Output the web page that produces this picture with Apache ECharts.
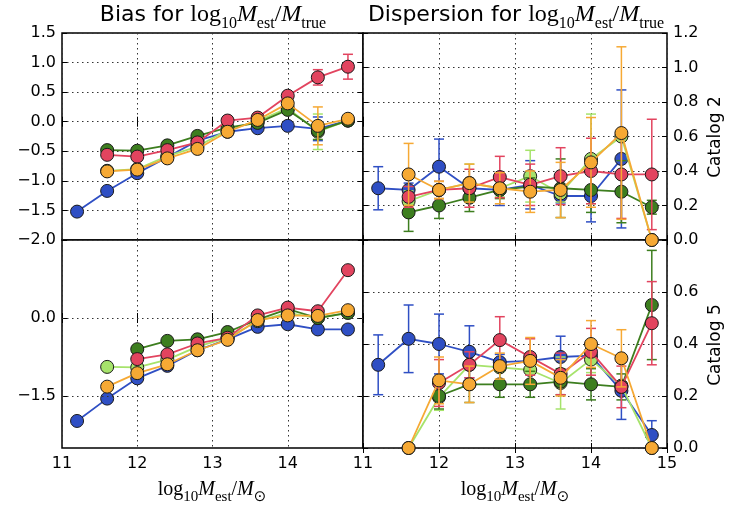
<!DOCTYPE html>
<html><head><meta charset="utf-8">
<script src="https://cdn.jsdelivr.net/npm/echarts@6/dist/echarts.min.js"></script>
<style>html,body{margin:0;padding:0;background:#fff}#c{width:745px;height:509px}</style>
</head><body><div id="c"></div>
<script>
// ---------- data ----------
const xValues = [11.2, 11.6, 12.0, 12.4, 12.8, 13.2, 13.6, 14.0, 14.4, 14.8];
const xTicks = [11, 12, 13, 14, 15];
const colorNames = ['blue', 'lightgreen', 'darkgreen', 'red', 'orange'];
const colors = ['#2f4fc4', '#a6e36b', '#3d7e1f', '#e2445f', '#f6a934'];

// Bias, catalog 2
const biasC2Blue   = [-1.52, -1.17, -0.87, -0.60, -0.32, -0.17, -0.11, -0.07, -0.12, 0.02];
const biasC2Light  = [null, -0.83, -0.80, -0.58, -0.42, -0.14, 0.01, 0.23, -0.17, 0.02];
const biasC2Dark   = [null, -0.48, -0.49, -0.40, -0.24, -0.10, -0.02, 0.20, -0.15, 0.02];
const biasC2Red    = [null, -0.56, -0.59, -0.48, -0.35, 0.02, 0.07, 0.44, 0.75, 0.93];
const biasC2Orange = [null, -0.84, -0.81, -0.62, -0.46, -0.17, 0.03, 0.31, -0.07, 0.05];
const biasC2BlueErr   = [0, 0, 0, 0, 0, 0, 0, 0, 0.20, 0];
const biasC2LightErr  = [0, 0, 0, 0, 0, 0, 0, 0, 0.30, 0.04];
const biasC2DarkErr   = [0, 0, 0, 0, 0, 0, 0, 0, 0.15, 0.06];
const biasC2RedErr    = [0, 0, 0, 0, 0, 0, 0, 0, 0.13, 0.21];
const biasC2OrangeErr = [0, 0, 0, 0, 0, 0, 0, 0, 0.32, 0];

// Dispersion, catalog 2
const dispC2Blue   = [0.30, 0.29, 0.425, 0.30, 0.29, 0.32, 0.255, 0.255, 0.47, null];
const dispC2Light  = [null, 0.225, 0.29, 0.33, 0.30, 0.37, 0.27, 0.47, 0.60, 0.0];
const dispC2Dark   = [null, 0.16, 0.20, 0.245, 0.29, 0.31, 0.30, 0.29, 0.28, 0.19];
const dispC2Red    = [null, 0.25, 0.29, 0.30, 0.365, 0.32, 0.37, 0.40, 0.38, 0.38];
const dispC2Orange = [null, 0.38, 0.29, 0.33, 0.30, 0.28, 0.29, 0.45, 0.62, 0.0];
const dispC2BlueErr   = [0.125, 0.04, 0.16, 0.03, 0.09, 0.14, 0.04, 0.15, 0.40, 0];
const dispC2LightErr  = [0, 0.06, 0.05, 0.11, 0.05, 0.15, 0.05, 0.26, 0, 0];
const dispC2DarkErr   = [0, 0.11, 0.075, 0.08, 0.05, 0.05, 0.17, 0.13, 0.18, 0.04];
const dispC2RedErr    = [0, 0.06, 0.05, 0.11, 0.12, 0.12, 0.165, 0.19, 0.255, 0.32];
const dispC2OrangeErr = [0, 0.18, 0.05, 0.11, 0.09, 0.12, 0.16, 0.26, 0.50, 0];

// Bias, catalog 5
const biasC5Blue   = [-1.98, -1.55, -1.16, -0.92, -0.62, -0.41, -0.17, -0.12, -0.22, -0.22];
const biasC5Light  = [null, -0.94, -0.95, -0.80, -0.55, -0.38, -0.06, 0.10, 0.00, 0.10];
const biasC5Dark   = [null, null, -0.60, -0.44, -0.41, -0.27, -0.03, 0.17, 0.00, 0.10];
const biasC5Red    = [null, null, -0.79, -0.70, -0.49, -0.38, 0.05, 0.20, 0.13, 0.92];
const biasC5Orange = [null, -1.32, -1.06, -0.89, -0.62, -0.42, -0.04, 0.05, 0.04, 0.15];
const biasC5Err    = [0, 0, 0, 0, 0, 0, 0, 0, 0, 0];

// Dispersion, catalog 5
const dispC5Blue   = [0.32, 0.42, 0.40, 0.37, 0.33, 0.335, 0.35, 0.355, 0.22, 0.05];
const dispC5Light  = [null, 0.0, 0.195, 0.32, 0.31, 0.30, 0.25, 0.34, 0.24, 0.0];
const dispC5Dark   = [null, null, 0.20, 0.245, 0.245, 0.245, 0.255, 0.245, 0.235, 0.55];
const dispC5Red    = [null, null, 0.25, 0.32, 0.415, 0.35, 0.285, 0.37, 0.235, 0.48];
const dispC5Orange = [null, 0.0, 0.26, 0.245, 0.315, 0.335, 0.27, 0.40, 0.345, 0.0];
const dispC5BlueErr   = [0.115, 0.13, 0.115, 0.10, 0.03, 0.03, 0.08, 0.03, 0.11, 0.055];
const dispC5LightErr  = [0, 0, 0.05, 0, 0, 0.04, 0.10, 0.05, 0, 0];
const dispC5DarkErr   = [0, 0, 0.05, 0.07, 0.05, 0.05, 0.05, 0.06, 0.05, 0.21];
const dispC5RedErr    = [0, 0, 0.09, 0.05, 0.09, 0.07, 0.08, 0.09, 0.08, 0.16];
const dispC5OrangeErr = [0, 0, 0.09, 0.07, 0.05, 0.09, 0.07, 0.09, 0.11, 0];

const biasC2YTicks = [-2.0, -1.5, -1.0, -0.5, 0.0, 0.5, 1.0, 1.5];
const biasC5YTicks = [-1.5, 0.0];

// ---------- build ----------
const panels = [
  { vals: [biasC2Blue, biasC2Light, biasC2Dark, biasC2Red, biasC2Orange],
    errs: [biasC2BlueErr, biasC2LightErr, biasC2DarkErr, biasC2RedErr, biasC2OrangeErr] },
  { vals: [dispC2Blue, dispC2Light, dispC2Dark, dispC2Red, dispC2Orange],
    errs: [dispC2BlueErr, dispC2LightErr, dispC2DarkErr, dispC2RedErr, dispC2OrangeErr] },
  { vals: [biasC5Blue, biasC5Light, biasC5Dark, biasC5Red, biasC5Orange],
    errs: [biasC5Err, biasC5Err, biasC5Err, biasC5Err, biasC5Err] },
  { vals: [dispC5Blue, dispC5Light, dispC5Dark, dispC5Red, dispC5Orange],
    errs: [dispC5BlueErr, dispC5LightErr, dispC5DarkErr, dispC5RedErr, dispC5OrangeErr] }
];

const grids = [
  { left: 62, top: 33, width: 301, height: 207 },
  { left: 363, top: 33, width: 304, height: 207 },
  { left: 62, top: 240, width: 301, height: 208 },
  { left: 363, top: 240, width: 304, height: 208 }
].map(g => Object.assign(g, { show: true, borderColor: '#000', borderWidth: 1.5, backgroundColor: '#fff' }));

const gridLineStyle = { type: [1.5, 3.5], color: '#333', width: 1 };
const labelFont = { fontFamily: 'DejaVu Sans', fontSize: 16, color: '#000' };
const fmt = v => (Math.round(v * 10) / 10).toFixed(1).replace('-', '\u2212');

const xAxes = [], yAxes = [];
for (let g = 0; g < 4; g++) {
  const bottomRow = g >= 2;
  xAxes.push({
    type: 'value', gridIndex: g, min: 11, max: 15, interval: 1, position: 'bottom',
    axisLine: { show: false },
    axisTick: { show: true, inside: true, length: 5, lineStyle: { color: '#000' } },
    axisLabel: Object.assign({ show: bottomRow, margin: 8,
      formatter: v => (g === 2 && v === 15) ? '' : String(v) }, labelFont),
    splitLine: { show: true, lineStyle: gridLineStyle }
  });
}
for (let g = 0; g < 4; g++) {
  xAxes.push({
    type: 'value', gridIndex: g, min: 11, max: 15, interval: 1, position: 'top',
    axisLine: { show: false }, axisLabel: { show: false }, splitLine: { show: false },
    axisTick: { show: true, inside: true, length: 5, lineStyle: { color: '#000' } }
  });
}
const yRanges = [
  { min: -2.0, max: 1.5, interval: 0.5 },
  { min: 0, max: 1.2, interval: 0.2 },
  { min: -2.5, max: 1.5 },
  { min: 0, max: 0.8, interval: 0.2 }
];
for (let side = 0; side < 2; side++) {
  for (let g = 0; g < 4; g++) {
    const leftPanel = g % 2 === 0;
    const main = side === 0;
    const pos = main ? (leftPanel ? 'left' : 'right') : (leftPanel ? 'right' : 'left');
    const ax = Object.assign({
      type: 'value', gridIndex: g, position: pos,
      axisLine: { show: false },
      axisTick: { show: true, inside: true, length: 5, lineStyle: { color: '#000' } },
      axisLabel: Object.assign({ show: main, margin: 6,
        formatter: v => (g === 3 && Math.abs(v - 0.8) < 1e-6) ? '' : fmt(v) }, labelFont),
      splitLine: { show: main && g !== 2, lineStyle: gridLineStyle }
    }, yRanges[g]);
    if (g === 2) {
      ax.axisLabel.customValues = biasC5YTicks;
      ax.axisTick.customValues = biasC5YTicks;
    }
    yAxes.push(ax);
  }
}

function errRender(color) {
  return function (params, api) {
    const x = api.value(0), lo = api.value(1), hi = api.value(2);
    const p1 = api.coord([x, lo]), p2 = api.coord([x, hi]);
    const w = 5;
    const style = { stroke: color, lineWidth: 1.5 };
    return { type: 'group', children: [
      { type: 'line', shape: { x1: p1[0], y1: p1[1], x2: p2[0], y2: p2[1] }, style },
      { type: 'line', shape: { x1: p1[0] - w, y1: p1[1], x2: p1[0] + w, y2: p1[1] }, style },
      { type: 'line', shape: { x1: p2[0] - w, y1: p2[1], x2: p2[0] + w, y2: p2[1] }, style }
    ] };
  };
}

const series = [];
// gridlines for bias catalog 5 (only at its tick values)
series.push({
  type: 'line', xAxisIndex: 2, yAxisIndex: 2, data: [], z: 1, silent: true,
  markLine: { silent: true, symbol: ['none', 'none'], label: { show: false },
    lineStyle: gridLineStyle, data: biasC5YTicks.map(v => ({ yAxis: v })) }
});
panels.forEach((p, g) => {
  p.vals.forEach((vals, k) => {
    const pts = [], errs = [];
    vals.forEach((v, i) => {
      if (v === null) return;
      pts.push([xValues[i], v]);
      const e = p.errs[k][i];
      if (e > 0) errs.push([xValues[i], v - e, v + e]);
    });
    if (errs.length) series.push({
      type: 'custom', name: colorNames[k] + g + 'err', xAxisIndex: g, yAxisIndex: g,
      data: errs, encode: { x: 0, y: [1, 2] }, renderItem: errRender(colors[k]), z: 2 + k * 2, clip: false
    });
    series.push({
      type: 'line', name: colorNames[k] + g, xAxisIndex: g, yAxisIndex: g, data: pts,
      symbol: 'circle', symbolSize: 13, showSymbol: true, z: 3 + k * 2, clip: false,
      lineStyle: { color: colors[k], width: 1.8 },
      itemStyle: { color: colors[k], borderColor: '#1a1a1a', borderWidth: 1 },
      emphasis: { disabled: true }, animation: false
    });
  });
});

const sans = 'DejaVu Sans', serif = 'Liberation Serif';
function mathRich(big, small) {
  return {
    s: { fontFamily: sans, fontSize: big - 2, color: '#000', lineHeight: big + 10, verticalAlign: 'middle' },
    r: { fontFamily: serif, fontSize: big, color: '#000', lineHeight: big + 10, verticalAlign: 'middle' },
    i: { fontFamily: serif, fontSize: big, fontStyle: 'italic', color: '#000', lineHeight: big + 10, verticalAlign: 'middle' },
    sub: { fontFamily: serif, fontSize: small, color: '#000', lineHeight: big + 10, verticalAlign: 'bottom' },
    sym: { fontFamily: sans, fontSize: small, color: '#000', lineHeight: big + 10, verticalAlign: 'bottom' }
  };
}
const titleRich = mathRich(24, 16);
const axisRich = mathRich(20, 15);
const graphic = [
  { type: 'text', x: 213, y: 15, style: { text: '{s|Bias for }{r|log}{sub|10}{i|M}{sub|est}{r|/}{i|M}{sub|true}',
      rich: titleRich, align: 'center', verticalAlign: 'middle' } },
  { type: 'text', x: 516, y: 15, style: { text: '{s|Dispersion for }{r|log}{sub|10}{i|M}{sub|est}{r|/}{i|M}{sub|true}',
      rich: titleRich, align: 'center', verticalAlign: 'middle' } },
  { type: 'text', x: 212, y: 490, style: { text: '{r|log}{sub|10}{i|M}{sub|est}{r|/}{i|M}{sym|\u2299}',
      rich: axisRich, align: 'center', verticalAlign: 'middle' } },
  { type: 'text', x: 515, y: 490, style: { text: '{r|log}{sub|10}{i|M}{sub|est}{r|/}{i|M}{sym|\u2299}',
      rich: axisRich, align: 'center', verticalAlign: 'middle' } },
  { type: 'text', x: 716, y: 137, rotation: Math.PI / 2, style: { text: 'Catalog 2', fontFamily: sans, fontSize: 17,
      fill: '#000', align: 'center', verticalAlign: 'middle' } },
  { type: 'text', x: 716, y: 345, rotation: Math.PI / 2, style: { text: 'Catalog 5', fontFamily: sans, fontSize: 17,
      fill: '#000', align: 'center', verticalAlign: 'middle' } }
];

const chart = echarts.init(document.getElementById('c'), null, { renderer: 'canvas' });
chart.setOption({
  animation: false,
  backgroundColor: '#fff',
  grid: grids,
  xAxis: xAxes,
  yAxis: yAxes,
  series: series,
  graphic: graphic
});
</script></body></html>
